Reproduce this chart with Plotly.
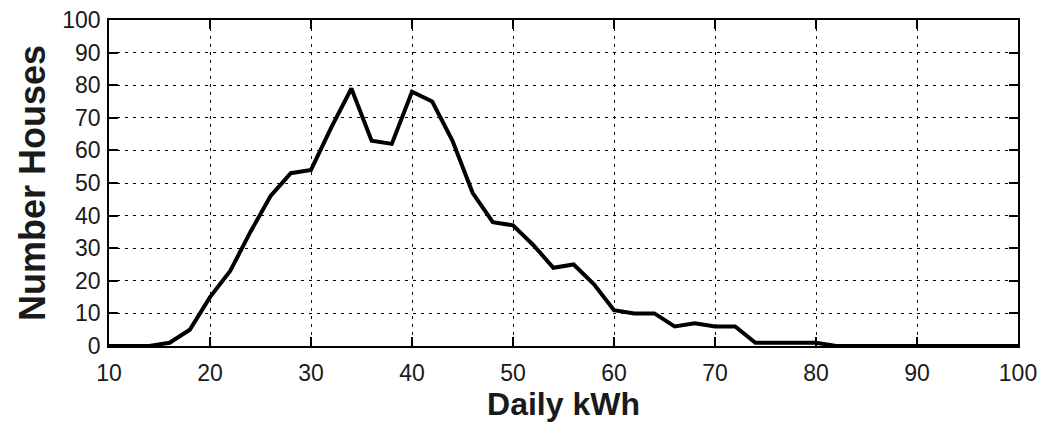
import plotly.graph_objects as go

kwh = [10, 12, 14, 16, 18, 20, 22, 24, 26, 28, 30, 32, 34, 36, 38, 40, 42, 44, 46, 48,
       50, 52, 54, 56, 58, 60, 62, 64, 66, 68, 70, 72, 74, 76, 78, 80, 82, 84, 86, 88,
       90, 92, 94, 96, 98, 100]
houses = [0, 0, 0, 1, 5, 15, 23, 35, 46, 53, 54, 67, 79, 63, 62, 78, 75, 63, 47, 38,
          37, 31, 24, 25, 19, 11, 10, 10, 6, 7, 6, 6, 1, 1, 1, 1, 0, 0, 0, 0,
          0, 0, 0, 0, 0, 0]

x_ticks = [10, 20, 30, 40, 50, 60, 70, 80, 90, 100]
y_ticks = [0, 10, 20, 30, 40, 50, 60, 70, 80, 90, 100]

FAM = "Liberation Sans, Arial, sans-serif"
font = dict(family=FAM, size=23, color="#1a1a1a")
axis_common = dict(
    showline=True, linecolor="black", linewidth=1.5, mirror="ticks",
    ticks="inside", ticklen=9, tickwidth=1.5, tickcolor="black",
    showgrid=True, gridcolor="black", gridwidth=1, griddash="3px,5px",
    zeroline=False, tickfont=font, automargin=False,
)

fig = go.Figure()
fig.add_trace(go.Scatter(x=kwh, y=houses, mode="lines",
                         line=dict(color="black", width=4), showlegend=False))

fig.update_layout(
    width=1043, height=423,
    margin=dict(l=109, r=25, t=20, b=77),
    paper_bgcolor="white", plot_bgcolor="white",
    xaxis=dict(range=[10, 100], tickvals=x_ticks, ticktext=[str(v) for v in x_ticks],
               ticklabelstandoff=6,
               title=dict(text="<b>Daily kWh</b>", font=dict(family=FAM, size=32, color="#1a1a1a"), standoff=2),
               **axis_common),
    yaxis=dict(range=[0, 100], tickvals=y_ticks, ticktext=[str(v) for v in y_ticks],
               ticklabelstandoff=2,
               title=dict(text="<b>Number Houses</b>", font=dict(family=FAM, size=36, color="#1a1a1a"), standoff=6),
               **axis_common),
)
fig.write_html("out.html")
